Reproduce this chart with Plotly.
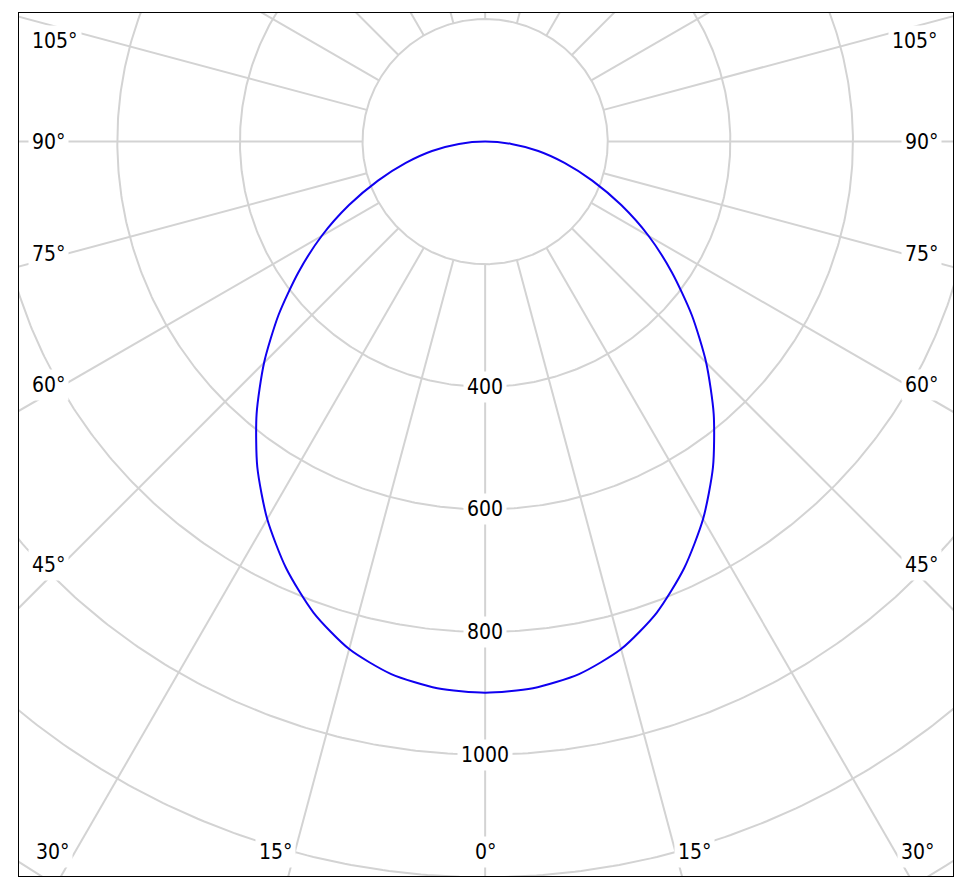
import numpy as np
import plotly.graph_objects as go

# ---------------- data ----------------
angles_deg = [0, 5, 10, 15, 20, 25, 30, 35, 40, 45, 50, 55, 60, 65, 70, 75, 80, 85, 90]
intensity = [899, 895, 882, 857, 818, 768, 711, 648, 580, 510, 440, 372, 308, 245, 186, 134, 88, 43, 0]

radial_ticks = [200, 400, 600, 800, 1000, 1200, 1400]
radial_labels = ["400", "600", "800", "1000"]
radial_label_vals = [400, 600, 800, 1000]
spoke_step_deg = 15

side_labels = ["105°", "90°", "75°", "60°", "45°"]
bottom_labels = ["30°", "15°", "0°", "15°", "30°"]

# ---------------- layout geometry ----------------
W, H = 969, 895
PAGE_OFF = 8  # browser body margin
ML, MR, MT, MB = 19 - PAGE_OFF, 16 + PAGE_OFF, 13 - PAGE_OFF, 19 + PAGE_OFF
PW, PH = W - ML - MR, H - MT - MB
X_RANGE = [-760.4, 763.2]
SCALE = PW / (X_RANGE[1] - X_RANGE[0])
Y_TOP = 209.8
Y_RANGE = [Y_TOP - PH / SCALE, Y_TOP]


def to_data(px, py):
    # px, py are positions in the final screenshot
    return (X_RANGE[0] + (px - ML - PAGE_OFF) / SCALE,
            Y_RANGE[1] - (py - MT - PAGE_OFF) / SCALE)


side_label_py = [41, 141.7, 254, 385, 565]
bottom_label_px = [52.7, 275.8, 485, 694.2, 917.3]
bottom_label_py = 851.7

GRID = "#d3d3d3"
FONT = dict(family="DejaVu Sans Condensed, Liberation Sans, Arial", size=21, color="black")

fig = go.Figure()

# circles
t = np.linspace(0, 2 * np.pi, 721)
for r in radial_ticks:
    fig.add_trace(go.Scatter(x=r * np.sin(t), y=r * np.cos(t), mode="lines",
                             line=dict(color=GRID, width=2), hoverinfo="skip", showlegend=False))

# spokes
r_in, r_out = radial_ticks[0], 2000
for a in range(0, 360, spoke_step_deg):
    th = np.radians(a)
    fig.add_trace(go.Scatter(x=[r_in * np.sin(th), r_out * np.sin(th)],
                             y=[-r_in * np.cos(th), -r_out * np.cos(th)], mode="lines",
                             line=dict(color=GRID, width=2), hoverinfo="skip", showlegend=False))

# curve (symmetric about 0°)
th = np.radians(np.array(angles_deg, dtype=float))
I = np.array(intensity, dtype=float)
xl = -(I * np.sin(th))[::-1]
yl = -(I * np.cos(th))[::-1]
xr = (I * np.sin(th))[1:]
yr = -(I * np.cos(th))[1:]
fig.add_trace(go.Scatter(x=np.concatenate([xl, xr]), y=np.concatenate([yl, yr]), mode="lines",
                         line=dict(color="#1000f0", width=2, shape="spline", smoothing=0.7),
                         hoverinfo="skip", showlegend=False))

annotations = []
for lab, v in zip(radial_labels, radial_label_vals):
    annotations.append(dict(x=0, y=-v, text=lab, showarrow=False, font=FONT,
                            bgcolor="white", borderpad=3, xanchor="center", yanchor="middle"))
for lab, py in zip(side_labels, side_label_py):
    xl_, yl_ = to_data(28, py)
    annotations.append(dict(x=xl_, y=yl_, text=lab, showarrow=False, font=FONT,
                            bgcolor="white", borderpad=3, xanchor="left", yanchor="middle"))
    xr_, yr_ = to_data(942, py)
    annotations.append(dict(x=xr_, y=yr_, text=lab, showarrow=False, font=FONT,
                            bgcolor="white", borderpad=3, xanchor="right", yanchor="middle"))
for lab, px in zip(bottom_labels, bottom_label_px):
    bx, by = to_data(px, bottom_label_py)
    annotations.append(dict(x=bx, y=by, text=lab, showarrow=False, font=FONT,
                            bgcolor="white", borderpad=3, xanchor="center", yanchor="middle"))

axis_common = dict(showgrid=False, zeroline=False, showticklabels=False, ticks="",
                   showline=True, linecolor="black", linewidth=1, mirror=True, fixedrange=True)
fig.update_layout(
    width=W, height=H,
    margin=dict(l=ML, r=MR, t=MT, b=MB, pad=0),
    paper_bgcolor="white", plot_bgcolor="white",
    xaxis=dict(range=X_RANGE, **axis_common),
    yaxis=dict(range=Y_RANGE, **axis_common),
    annotations=annotations,
    showlegend=False,
    hovermode=False,
)

fig.write_html("out.html")
